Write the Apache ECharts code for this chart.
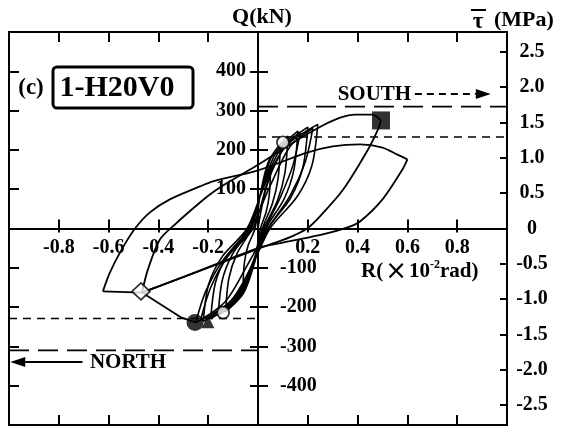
<!DOCTYPE html>
<html><head><meta charset="utf-8">
<script src="https://cdn.jsdelivr.net/npm/echarts@6/dist/echarts.min.js"></script>
<style>html,body{margin:0;padding:0;background:#fff}#c{width:561px;height:426px}</style>
</head><body><div id="c"></div>
<script>
// ---- axis definitions ----
const rRange = [-1, 1];
const qRange = [-500, 500];
const tauRange = [-2.78, 2.78];
const tauTicks = [-2.5, -2.0, -1.5, -1.0, -0.5, 0, 0.5, 1.0, 1.5, 2.0, 2.5];

// ---- hysteresis data [R (x10^-2 rad), Q (kN)] ----
const smallCycles = [
  [0,0],[0.02,70],[0.05,140],
  [0.045,84],[0.0325,42],[0.01,0],[-0.006,-56],[-0.027,-109],[-0.06,-140],
  [-0.054,-84],[-0.039,-42],[-0.012,0],[0.009,86],[0.0405,168],[0.09,215],
  [0.081,129],[0.0585,65],[0.018,0],[-0.013,-85],[-0.0585,-165],[-0.13,-212],
  [-0.117,-127],[-0.0845,-64],[-0.026,0],[0.012,94],[0.054,183],[0.12,235],
  [0.108,141],[0.078,71],[0.024,0],[-0.016,-89],[-0.072,-173],[-0.16,-222],
  [-0.144,-133],[-0.104,-67],[-0.032,0],[0.016,99],[0.072,193],[0.16,248],
  [0.144,149],[0.104,74],[0.032,0],[-0.019,-92],[-0.0855,-179],[-0.19,-230],
  [-0.171,-138],[-0.1235,-69],[-0.038,0],[0.02,103],[0.09,201],[0.20,258],
  [0.18,155],[0.13,77],[0.04,0],[-0.022,-94],[-0.099,-184],[-0.22,-236],
  [-0.198,-142],[-0.143,-71],[-0.044,0],[0.024,106],[0.108,207],[0.24,265],
  [0.216,159],[0.156,80],[0.048,0],[-0.025,-96],[-0.1125,-186],[-0.25,-239]
];
const repeatCycles = [
  [-0.25,-239],[-0.21,-160],[-0.14,-80],[-0.03,0],[0.05,110],[0.13,210],[0.22,255],
  [0.19,170],[0.13,85],[0.04,0],[-0.04,-90],[-0.13,-185],[-0.23,-232],
  [-0.19,-150],[-0.12,-70],[-0.02,0],[0.04,120],[0.10,200],[0.17,245],
  [0.14,160],[0.09,80],[0.03,0],[-0.03,-100],[-0.10,-180],[-0.20,-229]
];
const envelopeNeg1 = [[-0.25,-239],[-0.31,-226],[-0.466,-163]];
const loadTo05 = [[-0.466,-163],[-0.442,-104],[-0.394,-28],[-0.334,10],[-0.233,66],[-0.181,92],[-0.113,120],[0,162],[0.15,222],[0.26,262],[0.33,282],[0.39,290],[0.458,290],[0.494,275]];
const unloadFrom05 = [[0.494,275],[0.482,252],[0.442,201],[0.342,99],[0.249,31],[0.197,0],[0.129,-22],[0.05,-40]];
const envelopeNeg2 = [[0.05,-40],[-0.293,-122],[-0.466,-163],[-0.623,-160]];
const loadTo06 = [[-0.623,-160],[-0.595,-112],[-0.547,-53],[-0.494,0],[-0.434,41],[-0.354,74],[-0.233,107],[-0.181,120],[0,148],[0.197,193],[0.30,209],[0.41,214],[0.50,206],[0.56,188],[0.60,176]];
const unloadFrom06 = [[0.60,176],[0.58,150],[0.50,74],[0.41,18],[0.36,3],[0.26,-15],[0.10,-36],[0.008,-48],[-0.293,-122],[-0.466,-163]];

// ---- event markers ----
const maxSouth = [[0.494, 275]];
const maxNorth = [[-0.253, -239]];
const northTriangle = [[-0.201, -237]];
const openDiamond = [[-0.47, -160]];
const openCircles = [[0.10, 219], [-0.14, -214]];

// ---- reference levels (kN) ----
const southMaxLevel = 310, southYieldLevel = 233;
const northYieldLevel = -229, northMaxLevel = -310;

// ---- annotation anchors ----
const southLabel = [0.32, 342];
const southArrowR = [0.63, 0.935];
const northLabel = [-0.675, -340];
const northArrowR = [-0.705, -0.995];

// ---- layout ----
const G = {left: 9, right: 54, top: 32, bottom: 1, width: 561, height: 426};
const plotW = G.width - G.left - G.right;
const plotH = G.height - G.top - G.bottom;
const xZeroOffset = -plotH / 2;   // central horizontal axis (Q = 0)
const yZeroOffset = -plotW / 2;   // central vertical axis (R = 0)

const FONT = '"Liberation Serif", "Times New Roman", serif';
const tickText = {fontFamily: FONT, fontWeight: 'bold', fontSize: 20, color: '#000'};
const black = {color: '#000', width: 2};

const lineSeries = (data, smooth, width) => ({
  type: 'line', data, smooth, showSymbol: false, symbol: 'none',
  xAxisIndex: 0, yAxisIndex: 0, silent: true,
  lineStyle: {color: '#000', width: width || 1.8}, z: 3
});
const levelSeries = (data, dash) => ({
  type: 'line', data, showSymbol: false, symbol: 'none', silent: true,
  xAxisIndex: 0, yAxisIndex: 0,
  lineStyle: {color: '#000', width: 1.6, type: dash}, z: 2
});
const markerSeries = (data, symbol, size, filled) => ({
  type: 'scatter', data, symbol, symbolSize: size, silent: true,
  xAxisIndex: 0, yAxisIndex: 0, z: 5,
  itemStyle: filled ? {color: '#000'} : {color: '#fff', borderColor: '#000', borderWidth: 1.8}
});
const xBase = {type: 'value', min: rRange[0], max: rRange[1], interval: 0.2, splitLine: {show: false}};
const qBase = {type: 'value', min: qRange[0], max: qRange[1], interval: 100, splitLine: {show: false}};

const option = {
  animation: false,
  backgroundColor: '#fff',
  grid: {left: G.left, right: G.right, top: G.top, bottom: G.bottom, show: true, borderColor: '#000', borderWidth: 2,
         containLabel: false, outerBoundsMode: 'none'},
  xAxis: [
    Object.assign({}, xBase, { // central axis at Q = 0, with labels
      position: 'bottom', offset: xZeroOffset,
      axisLine: {show: true, onZero: false, lineStyle: black},
      axisTick: {show: true, inside: true, length: 9, lineStyle: black},
      axisLabel: Object.assign({margin: 9, formatter: v => (Math.abs(v) < 1e-9 || Math.abs(Math.abs(v) - 1) < 1e-9) ? '' : String(Math.round(v * 10) / 10)}, tickText)
    }),
    Object.assign({}, xBase, { // central axis tick stubs below
      position: 'bottom', offset: xZeroOffset,
      axisLine: {show: false, onZero: false},
      axisTick: {show: true, inside: false, length: 4, lineStyle: black},
      axisLabel: {show: false}
    }),
    Object.assign({}, xBase, { // bottom frame ticks
      position: 'bottom',
      axisLine: {show: false, onZero: false},
      axisTick: {show: true, inside: true, length: 10, lineStyle: black},
      axisLabel: {show: false}
    }),
    Object.assign({}, xBase, { // top frame ticks
      position: 'top',
      axisLine: {show: false, onZero: false},
      axisTick: {show: true, inside: true, length: 10, lineStyle: black},
      axisLabel: {show: false}
    })
  ],
  yAxis: [
    Object.assign({}, qBase, { // central Q axis, positive labels on the left
      position: 'left', offset: yZeroOffset,
      axisLine: {show: true, onZero: false, lineStyle: black},
      axisTick: {show: true, inside: false, length: 8, lineStyle: black},
      axisLabel: Object.assign({margin: 12, formatter: v => (v > 0 && v < 500) ? String(v) : ''}, tickText)
    }),
    Object.assign({}, qBase, { // central Q axis, negative labels on the right
      position: 'left', offset: yZeroOffset,
      axisLine: {show: false, onZero: false},
      axisTick: {show: true, inside: true, length: 10, lineStyle: black},
      axisLabel: Object.assign({inside: true, margin: 22, formatter: v => (v < 0 && v > -500) ? String(v) : ''}, tickText)
    }),
    Object.assign({}, qBase, { // left frame ticks
      position: 'left',
      axisLine: {show: false, onZero: false},
      axisTick: {show: true, inside: true, length: 10, lineStyle: black},
      axisLabel: {show: false}
    }),
    { // right tau axis
      type: 'value', min: tauRange[0], max: tauRange[1], position: 'right',
      axisLine: {show: false, onZero: false},
      axisTick: {show: true, inside: true, length: 7, lineStyle: black, customValues: tauTicks},
      axisLabel: Object.assign({customValues: tauTicks, margin: 25, align: 'center',
                                formatter: v => Math.abs(v) < 1e-9 ? '0' : Number(v).toFixed(1)}, tickText),
      splitLine: {show: false}
    }
  ],
  series: [
    levelSeries([[0, southMaxLevel], [rRange[1], southMaxLevel]], [20, 9]),
    levelSeries([[0, southYieldLevel], [rRange[1], southYieldLevel]], [8, 6]),
    levelSeries([[rRange[0], northYieldLevel], [0, northYieldLevel]], [8, 6]),
    levelSeries([[rRange[0], northMaxLevel], [0, northMaxLevel]], [20, 9]),
    lineSeries(smallCycles, 0.3, 1.6),
    lineSeries(repeatCycles, 0.3, 1.6),
    lineSeries(envelopeNeg1, false),
    lineSeries(loadTo05, 0.3),
    lineSeries(unloadFrom05, 0.3),
    lineSeries(envelopeNeg2, false),
    lineSeries(loadTo06, 0.3),
    lineSeries(unloadFrom06, 0.25),
    markerSeries(maxSouth, 'rect', 18, true),
    markerSeries(maxNorth, 'circle', 17, true),
    markerSeries(northTriangle, 'triangle', 13, true),
    markerSeries(openDiamond, 'diamond', [18, 17], false),
    markerSeries(openCircles, 'circle', 12, false)
  ]
};

const chart = echarts.init(document.getElementById('c'), null, {renderer: 'canvas'});
chart.setOption(option);

const px = (r, q) => chart.convertToPixel({xAxisIndex: 0, yAxisIndex: 0}, [r, q]);
const sL = px(southLabel[0], southLabel[1]);
const sA1 = px(southArrowR[0], southLabel[1]);
const sA2 = px(southArrowR[1], southLabel[1]);
const nL = px(northLabel[0], northLabel[1]);
const nA1 = px(northArrowR[0], northLabel[1]);
const nA2 = px(northArrowR[1], northLabel[1]);
const headLen = 15, headHalf = 5;

chart.setOption({
  graphic: [
    {type: 'text', x: 262, y: 17, style: {text: 'Q(kN)', font: 'bold 22px ' + FONT, fill: '#000', align: 'center', verticalAlign: 'middle'}},
    {type: 'text', x: 478, y: 22, style: {text: 'τ', font: 'bold 23px ' + FONT, fill: '#000', align: 'center', verticalAlign: 'middle'}},
    {type: 'line', shape: {x1: 471, y1: 10, x2: 486, y2: 10}, style: {stroke: '#000', lineWidth: 2}},
    {type: 'text', x: 494, y: 20, style: {text: '(MPa)', font: 'bold 22px ' + FONT, fill: '#000', align: 'left', verticalAlign: 'middle'}},
    {type: 'text', x: 361, y: 272, style: {
      text: '{a|R(}{x|×}{a|10}{s|-2}{a|rad)}', fill: '#000', align: 'left', verticalAlign: 'middle',
      rich: {
        a: {font: 'bold 21px ' + FONT, fill: '#000'},
        x: {font: '26px "DejaVu Sans"', fill: '#000', padding: [0, 2, 0, 2]},
        s: {font: 'bold 12px ' + FONT, fill: '#000', verticalAlign: 'top'}
      }}},
    {type: 'text', x: 31, y: 88, style: {text: '(c)', font: 'bold 23px ' + FONT, fill: '#000', align: 'center', verticalAlign: 'middle'}},
    {type: 'rect', shape: {x: 53, y: 67, width: 140, height: 41, r: 4}, style: {fill: '#fff', stroke: '#000', lineWidth: 3}},
    {type: 'text', x: 117, y: 88, style: {text: '1-H20V0', font: 'bold 30px ' + FONT, fill: '#000', align: 'center', verticalAlign: 'middle'}},
    {type: 'text', x: sL[0], y: sL[1], style: {text: 'SOUTH', font: 'bold 21px ' + FONT, fill: '#000', align: 'left', verticalAlign: 'middle'}},
    {type: 'line', shape: {x1: sA1[0], y1: sA1[1], x2: sA2[0] - headLen, y2: sA2[1]}, style: {stroke: '#000', lineWidth: 2, lineDash: [7, 5]}},
    {type: 'polygon', shape: {points: [[sA2[0], sA2[1]], [sA2[0] - headLen, sA2[1] - headHalf], [sA2[0] - headLen, sA2[1] + headHalf]]}, style: {fill: '#000'}},
    {type: 'text', x: nL[0], y: nL[1], style: {text: 'NORTH', font: 'bold 21px ' + FONT, fill: '#000', align: 'left', verticalAlign: 'middle'}},
    {type: 'line', shape: {x1: nA1[0], y1: nA1[1], x2: nA2[0] + headLen, y2: nA2[1]}, style: {stroke: '#000', lineWidth: 2}},
    {type: 'polygon', shape: {points: [[nA2[0], nA2[1]], [nA2[0] + headLen, nA2[1] - headHalf], [nA2[0] + headLen, nA2[1] + headHalf]]}, style: {fill: '#000'}}
  ]
});
</script>
</body></html>
